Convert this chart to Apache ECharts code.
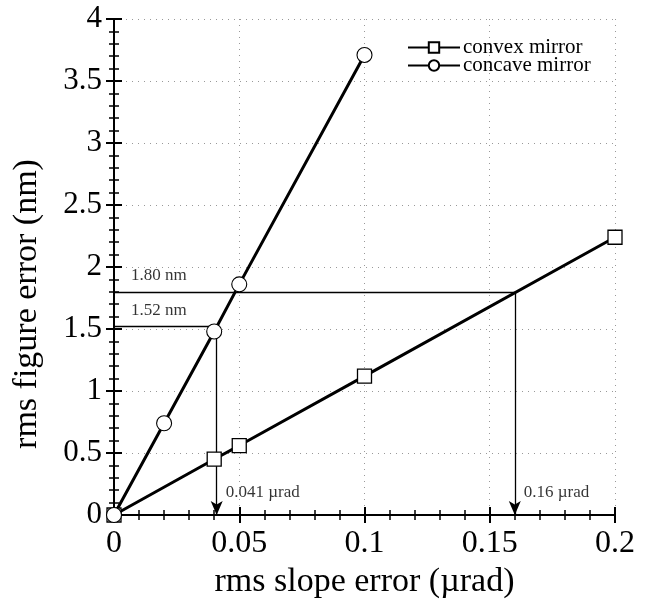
<!DOCTYPE html>
<html>
<head>
<meta charset="utf-8">
<script src="https://cdn.jsdelivr.net/npm/echarts@6/dist/echarts.min.js"></script>
<style>
html,body{margin:0;padding:0;background:#fff;}
#chart{width:649px;height:604px;}
</style>
</head>
<body>
<div id="chart"></div>
<script>
// ---- data ----
const convexX = [0, 0.04, 0.05, 0.1, 0.2];
const convexY = [0, 0.45, 0.56, 1.12, 2.24];
const concaveX = [0, 0.02, 0.04, 0.05, 0.1];
const concaveY = [0, 0.74, 1.48, 1.86, 3.71];
const markSlopes = [0.041, 0.16];          // µrad
const markFigures = [1.52, 1.80];          // nm
const markFigureLabels = ['1.52 nm', '1.80 nm'];
const markSlopeLabels = ['0.041 µrad', '0.16 µrad'];
const seriesNames = ['convex mirror', 'concave mirror'];
const xTitle = 'rms slope error (µrad)';
const yTitle = 'rms figure error (nm)';

const FONT = 'Liberation Serif';
const chart = echarts.init(document.getElementById('chart'), null, {renderer: 'canvas'});

function zip(xs, ys) { return xs.map((x, i) => [x, ys[i]]); }

const axisCommon = {
  type: 'value',
  axisLine: {show: true, lineStyle: {color: '#000', width: 2}},
  axisTick: {show: true, inside: true, length: 8, lineStyle: {color: '#000', width: 2}},
  minorTick: {show: true, splitNumber: 5, length: 5, lineStyle: {color: '#000', width: 1.5}},
  minorSplitLine: {show: false}
};

const xBase = Object.assign({}, axisCommon, {min: 0, max: 0.2, interval: 0.05});
const yBase = Object.assign({}, axisCommon, {min: 0, max: 4, interval: 0.5});

// annotation guide lines
const markLineData = [];
markSlopes.forEach((sx, i) => {
  const fy = markFigures[i];
  markLineData.push([{coord: [0, fy], symbol: 'none'}, {coord: [sx, fy], symbol: 'none'}]);
  markLineData.push([{coord: [sx, fy], symbol: 'none'}, {coord: [sx, 0], symbol: 'arrow'}]);
});

const labelData = [];
markFigures.forEach((fy, i) => {
  labelData.push({value: [0, fy], label: {formatter: markFigureLabels[i], position: 'right', offset: [12, -16]}});
});
markSlopes.forEach((sx, i) => {
  labelData.push({value: [sx, 0], label: {formatter: markSlopeLabels[i], position: 'right', offset: [4, -22]}});
});

const option = {
  animation: false,
  backgroundColor: '#fff',
  grid: {left: 114, right: 34, top: 19, bottom: 89, containLabel: false},
  legend: {
    data: seriesNames,
    orient: 'vertical',
    left: 402, top: 32,
    itemWidth: 52, itemHeight: 13, itemGap: -3,
    textStyle: {fontFamily: FONT, fontSize: 21, color: '#000', padding: [0, 0, 0, -2]},
    inactiveColor: '#000'
  },
  xAxis: [
    Object.assign({}, xBase, {
      position: 'bottom',
      name: xTitle, nameLocation: 'middle', nameGap: 50,
      nameTextStyle: {fontFamily: FONT, fontSize: 34, color: '#000'},
      axisLabel: {fontFamily: FONT, fontSize: 32, color: '#000', margin: 13},
      splitLine: {show: true, lineStyle: {color: '#999', type: [1, 5], width: 1}}
    }),
    Object.assign({}, xBase, {
      position: 'top',
      axisLabel: {show: false},
      splitLine: {show: false}
    })
  ],
  yAxis: [
    Object.assign({}, yBase, {
      position: 'left',
      name: yTitle, nameLocation: 'middle', nameGap: 70,
      nameTextStyle: {fontFamily: FONT, fontSize: 34, color: '#000', padding: [0, 74, 0, 0]},
      axisLabel: {fontFamily: FONT, fontSize: 31, color: '#000', margin: 12},
      splitLine: {show: true, lineStyle: {color: '#999', type: [1, 5], width: 1}}
    }),
    Object.assign({}, yBase, {
      position: 'right',
      axisLabel: {show: false},
      splitLine: {show: false}
    })
  ],
  series: [
    {
      name: 'guides',
      type: 'scatter',
      data: labelData,
      symbolSize: 0,
      silent: true,
      z: 3,
      label: {show: true, fontFamily: FONT, fontSize: 17, color: '#000'},
      markLine: {
        silent: true,
        symbolSize: [9, 14],
        label: {show: false},
        lineStyle: {color: '#000', width: 1.3, type: 'solid'},
        emphasis: {disabled: true},
        data: markLineData
      }
    },
    {
      name: seriesNames[0],
      type: 'line',
      data: zip(convexX, convexY),
      symbol: 'rect',
      symbolSize: 14,
      showAllSymbol: true,
      z: 5,
      lineStyle: {color: '#000', width: 3},
      itemStyle: {color: '#fff', borderColor: '#000', borderWidth: 1.3},
      emphasis: {disabled: true}
    },
    {
      name: seriesNames[1],
      type: 'line',
      data: zip(concaveX, concaveY),
      symbol: 'circle',
      symbolSize: 15,
      showAllSymbol: true,
      z: 5,
      lineStyle: {color: '#000', width: 3},
      itemStyle: {color: '#fff', borderColor: '#000', borderWidth: 1.1},
      emphasis: {disabled: true}
    }
  ]
};
chart.setOption(option);
</script>
</body>
</html>
